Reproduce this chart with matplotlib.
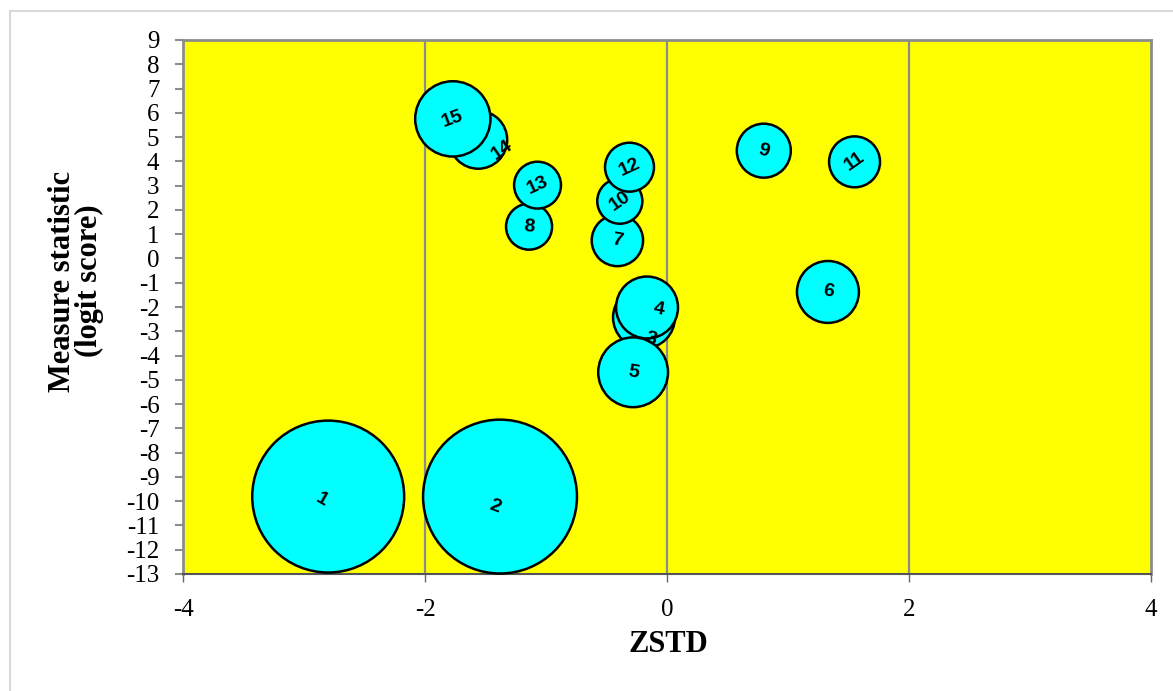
import matplotlib
matplotlib.use("Agg")
import matplotlib.pyplot as plt
from matplotlib.lines import Line2D

# Item measures: standardized fit (ZSTD) against logit measure, bubble area = size
items = ["1", "2", "3", "4", "5", "6", "7", "8", "9", "10", "11", "12", "13", "14", "15"]
zstd = [-2.80, -1.38, -0.19, -0.165, -0.28, 1.33, -0.41, -1.14, 0.80, -0.39, 1.55, -0.31, -1.07, -1.56, -1.77]
measure = [-9.81, -9.81, -2.43, -2.02, -4.69, -1.38, 0.74, 1.31, 4.44, 2.36, 3.98, 3.76, 3.02, 4.89, 5.75]
bubble_size = [578, 593, 96, 96, 122, 96, 66, 53, 73, 51, 65, 60, 55, 84, 142]

x_ticks = [-4, -2, 0, 2, 4]
y_ticks = list(range(-13, 10))

# label styling per item: rotation (deg) and nudge in pixels (dx, dy)
label_rot = {"1": -30, "2": -20, "3": -15, "4": -10, "5": -10, "6": -10, "7": -10,
             "8": -5, "9": -15, "10": 35, "11": 35, "12": 25, "13": 25, "14": 35, "15": 20}
label_nudge = {"1": (-6, -3), "2": (-5, -10), "3": (7, -22), "4": (12, -2), "14": (24, -10)}

fig = plt.figure(figsize=(11.73, 6.91), dpi=100)
W, H = 1173, 691
ax = fig.add_axes([183 / W, 1 - 574 / H, (1151 - 183) / W, (574 - 40) / H])
ax.set_facecolor("#FFFF00")
ax.set_xlim(-4, 4)
ax.set_ylim(-13, 9)

for xv in x_ticks[1:-1]:
    ax.axvline(xv, color="#8C8C8C", lw=1.6, zorder=1)

scale = 20.7
ax.scatter(zstd, measure, s=[scale * b for b in bubble_size], c="#00FFFF",
           edgecolors="black", linewidths=1.8, zorder=3, clip_on=False)

for name, xv, yv in zip(items, zstd, measure):
    dx, dy = label_nudge.get(name, (0, 0))
    ax.annotate(name, (xv, yv), xytext=(dx * 0.72, dy * 0.72), textcoords="offset points",
                ha="center", va="center", rotation=label_rot[name],
                fontsize=14, fontweight="bold", family="Liberation Sans", zorder=5)

ax.set_xticks(x_ticks)
ax.set_yticks(y_ticks)
ax.set_xticklabels([str(v) for v in x_ticks], family="Liberation Serif", fontsize=18)
ax.set_yticklabels([str(v) for v in y_ticks], family="Liberation Serif", fontsize=18)
ax.tick_params(axis="y", direction="out", length=6, width=1.5, color="#8C8C8C", pad=11)
ax.tick_params(axis="x", direction="out", length=6, width=1.0, color="#666666", pad=12)

for side in ["top", "right", "left"]:
    ax.spines[side].set_color("#8C8C8C")
    ax.spines[side].set_linewidth(2)
ax.spines["bottom"].set_color("#555555")
ax.spines["bottom"].set_linewidth(1.5)
ax.spines["bottom"].set_linestyle((0, (1, 1)))

fig.text(668 / W, 1 - 645 / H, "ZSTD", ha="center", va="center",
         family="Liberation Serif", fontweight="bold", fontsize=22)
fig.text(76 / W, 1 - 281 / H, "Measure statistic\n(logit score)", ha="center", va="center",
         rotation=90, family="Liberation Serif", fontweight="bold", fontsize=22,
         linespacing=0.95)

# light outer chart frame
fig.add_artist(Line2D([10 / W, 10 / W], [0, 1 - 11 / H], transform=fig.transFigure,
                      color="#D9D9D9", lw=1.5))
fig.add_artist(Line2D([10 / W, 1], [1 - 11 / H, 1 - 11 / H], transform=fig.transFigure,
                      color="#D9D9D9", lw=1.5))

fig.savefig("out.png", dpi=100, facecolor="white")
